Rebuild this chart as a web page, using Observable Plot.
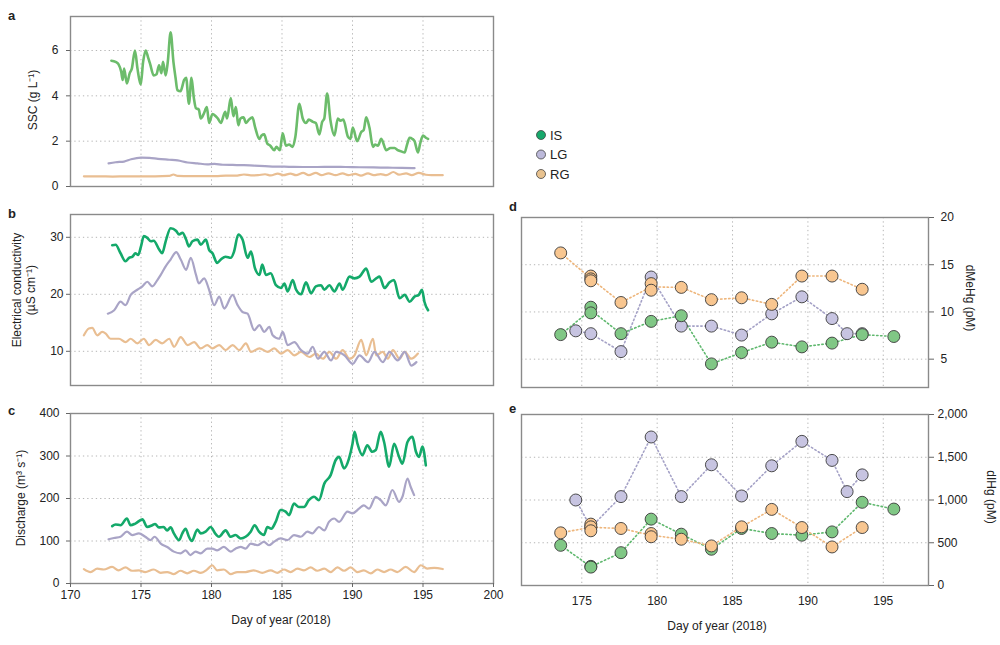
<!DOCTYPE html>
<html>
<head>
<meta charset="utf-8">
<script src="https://cdn.jsdelivr.net/npm/d3@7"></script>
<script src="https://cdn.jsdelivr.net/npm/@observablehq/plot@0.6"></script>
<style>
  html, body { margin: 0; padding: 0; background: #fff; }
  #root { position: relative; width: 1000px; height: 645px; overflow: hidden; background: #fff; }
  #root svg { position: absolute; }
</style>
</head>
<body>
<div id="root"></div>
<script>
// ---------------- DATA ----------------
const seriesNames = ["IS", "LG", "RG"];
const xTicksLeft = [170, 175, 180, 185, 190, 195, 200];
const xTicksRight = [175, 180, 185, 190, 195];
const sscTicks = [0, 2, 4, 6];
const ecTicks = [10, 20, 30];
const qTicks = [0, 100, 200, 300, 400];
const mehgTicks = [5, 10, 15, 20];
const ihgTicks = [0, 500, 1000, 1500, 2000];

// Panel a: SSC (g L-1)
const isSSC = [[172.9,5.55],[173.2,5.5],[173.4,5.4],[173.6,5.05],[173.7,4.7],[173.8,5.2],[174.0,4.55],[174.2,5.0],[174.35,5.2],[174.57,6.0],[174.75,5.2],[174.98,4.5],[175.15,5.5],[175.33,6.0],[175.5,5.7],[175.65,5.4],[175.9,4.9],[176.1,4.95],[176.28,5.35],[176.45,5.0],[176.56,5.5],[176.75,4.9],[176.9,5.5],[177.1,6.8],[177.3,5.5],[177.45,4.8],[177.58,4.25],[177.8,4.2],[178.06,4.7],[178.2,4.8],[178.4,3.65],[178.58,4.8],[178.75,3.9],[178.9,3.45],[179.1,3.4],[179.24,3.0],[179.45,3.2],[179.67,3.5],[179.83,2.8],[180.07,3.2],[180.3,3.1],[180.45,3.0],[180.66,2.8],[180.97,3.3],[181.1,3.0],[181.37,3.9],[181.55,3.1],[181.73,3.5],[181.9,2.7],[182.05,3.0],[182.27,3.05],[182.45,2.8],[182.65,2.95],[182.9,3.05],[183.1,2.6],[183.39,2.1],[183.55,2.25],[183.74,2.3],[183.95,1.9],[184.17,1.8],[184.45,1.6],[184.6,1.75],[184.85,1.6],[185.05,2.35],[185.28,1.8],[185.5,1.85],[185.76,1.75],[185.95,2.2],[186.23,3.65],[186.47,3.0],[186.7,2.8],[186.9,2.95],[187.2,2.85],[187.4,2.8],[187.65,2.3],[187.85,2.85],[188.0,3.0],[188.2,4.1],[188.44,2.9],[188.72,2.25],[188.96,3.0],[189.15,2.9],[189.35,2.95],[189.67,2.2],[189.85,2.1],[190.02,2.6],[190.33,2.0],[190.62,2.4],[190.8,2.5],[190.97,3.05],[191.2,2.6],[191.45,1.75],[191.6,1.85],[191.8,1.8],[192.04,2.1],[192.4,1.6],[192.7,1.7],[192.99,1.7],[193.2,1.6],[193.46,1.55],[193.7,1.5],[193.85,1.8],[194.05,2.15],[194.25,2.1],[194.4,2.0],[194.64,1.5],[194.8,1.9],[195.0,2.25],[195.2,2.15],[195.36,2.1]];
const lgSSC = [[172.7,1.02],[173.2,1.07],[173.8,1.1],[174.3,1.2],[175.0,1.27],[175.6,1.26],[176.2,1.22],[177.0,1.18],[177.6,1.15],[178.3,1.06],[179.0,1.02],[179.7,0.98],[180.2,1.0],[180.8,0.96],[181.5,0.95],[182.3,0.94],[183.0,0.92],[183.8,0.9],[184.5,0.88],[185.5,0.87],[186.5,0.86],[187.5,0.86],[188.5,0.87],[189.5,0.86],[190.5,0.85],[191.5,0.84],[192.5,0.83],[193.5,0.82],[194.4,0.81]];
const rgSSC = [[170.95,0.45],[172,0.45],[173,0.44],[174,0.45],[175,0.45],[176,0.45],[177,0.47],[177.3,0.53],[177.6,0.47],[178.5,0.46],[179.5,0.46],[180.3,0.46],[181,0.48],[181.7,0.48],[182.3,0.53],[182.8,0.49],[183.3,0.5],[183.8,0.54],[184.2,0.49],[184.7,0.57],[185.1,0.5],[185.6,0.57],[186.0,0.5],[186.5,0.6],[186.9,0.5],[187.4,0.6],[187.8,0.5],[188.3,0.58],[188.8,0.5],[189.3,0.58],[189.7,0.5],[190.2,0.56],[190.6,0.48],[191.1,0.58],[191.5,0.5],[192.0,0.55],[192.4,0.5],[192.9,0.64],[193.3,0.52],[193.8,0.58],[194.2,0.5],[194.7,0.6],[195.2,0.52],[195.6,0.5],[196.4,0.5]];

// Panel b: electrical conductivity (uS cm-1)
const isEC = [[172.96,28.6],[173.2,28.7],[173.55,27.2],[173.9,25.8],[174.15,26.4],[174.4,26.6],[174.6,27.2],[174.8,26.9],[175.0,28.4],[175.2,30.2],[175.45,29.9],[175.7,29.3],[175.9,29.4],[176.3,27.8],[176.5,27.2],[176.75,29.3],[177.1,31.6],[177.5,31.1],[177.7,30.5],[177.94,30.8],[178.2,29.6],[178.4,28.4],[178.65,29.3],[179.0,29.6],[179.24,28.7],[179.6,29.6],[179.83,27.8],[180.07,27.2],[180.4,25.5],[180.66,26.1],[181.0,26.6],[181.37,26.4],[181.6,27.5],[181.9,30.5],[182.2,29.6],[182.56,26.4],[182.8,27.5],[183.08,24.6],[183.4,23.4],[183.6,25.2],[183.86,23.4],[184.2,23.7],[184.57,21.6],[184.93,21.1],[185.17,21.9],[185.4,20.5],[185.76,22.5],[186.0,20.8],[186.35,20.0],[186.7,22.1],[187.06,20.2],[187.4,21.4],[187.77,21.6],[188.0,20.8],[188.36,21.6],[188.72,20.5],[189.08,21.9],[189.3,20.8],[189.79,23.1],[190.14,22.8],[190.5,23.1],[190.97,24.5],[191.33,22.2],[191.68,22.8],[191.92,23.1],[192.27,21.1],[192.63,22.1],[192.94,22.5],[193.34,19.3],[193.7,19.9],[194.05,18.7],[194.4,19.6],[194.7,19.9],[194.93,20.8],[195.1,18.7],[195.36,17.2]];
const lgEC = [[172.65,16.6],[173.1,17.2],[173.55,18.7],[173.9,18.1],[174.27,19.9],[174.74,20.8],[175.1,21.4],[175.45,22.2],[175.8,21.4],[176.16,22.5],[176.4,23.4],[176.75,24.9],[177.1,26.1],[177.5,27.4],[177.82,26.1],[178.2,24.3],[178.53,26.4],[178.9,23.4],[179.1,21.9],[179.48,22.8],[179.83,20.8],[180.19,18.1],[180.55,19.6],[180.9,17.5],[181.5,19.9],[181.85,18.1],[182.2,16.9],[182.56,16.6],[183.03,13.7],[183.4,14.6],[183.74,13.4],[184.1,14.3],[184.34,12.8],[184.8,12.2],[185.05,13.4],[185.4,11.1],[185.88,11.6],[186.35,10.2],[186.82,9.6],[187.18,10.8],[187.54,8.7],[188.0,9.9],[188.48,8.4],[188.84,9.9],[189.43,9.3],[190.02,7.8],[190.5,9.3],[191.1,8.1],[191.56,9.9],[192.15,8.1],[192.63,9.9],[193.2,8.4],[193.7,9.9],[194.17,7.5],[194.53,8.1]];
const rgEC = [[170.95,12.8],[171.3,14.0],[171.54,14.1],[171.9,12.8],[172.25,13.4],[172.5,13.1],[172.84,12.2],[173.44,12.2],[173.9,11.6],[174.27,12.2],[174.74,11.4],[175.2,12.2],[175.57,11.1],[176.04,12.0],[176.5,11.4],[177.0,12.2],[177.35,10.8],[177.82,12.5],[178.3,11.1],[178.77,11.6],[179.24,10.5],[179.7,11.1],[180.07,10.5],[180.55,11.1],[181.0,10.2],[181.5,11.1],[181.97,10.2],[182.44,11.4],[182.8,9.9],[183.4,10.5],[184.0,9.9],[184.45,10.5],[184.93,9.6],[185.4,10.2],[185.88,9.3],[186.35,9.9],[186.94,9.0],[187.4,9.6],[187.9,8.7],[188.36,9.9],[188.84,8.7],[189.3,10.2],[189.79,8.7],[190.14,9.3],[190.62,12.0],[190.97,9.3],[191.45,12.2],[191.68,9.3],[192.15,9.9],[192.5,8.7],[192.87,10.2],[193.34,8.7],[193.7,9.9],[194.17,8.7],[194.64,9.6]];

// Panel c: discharge (m3 s-1)
const isQ = [[172.96,135],[173.2,139],[173.55,137],[174.0,153],[174.26,137],[174.6,141],[175.1,151],[175.44,133],[175.8,137],[176.0,140],[176.27,132],[176.6,133],[176.86,125],[177.1,132],[177.33,118],[177.7,102],[177.93,118],[178.16,129],[178.4,110],[178.6,100],[179.0,127],[179.23,118],[179.58,122],[179.94,133],[180.3,116],[180.53,110],[181.0,125],[181.36,110],[181.7,114],[182.07,106],[182.42,110],[182.78,122],[183.06,137],[183.37,122],[183.72,114],[183.96,133],[184.24,129],[184.55,145],[184.9,173],[185.26,169],[185.5,161],[185.85,188],[186.2,180],[186.56,180],[186.9,196],[187.27,204],[187.62,196],[188.0,235],[188.45,255],[188.8,290],[189.05,298],[189.4,271],[189.75,294],[190.0,329],[190.15,357],[190.35,329],[190.7,302],[191.05,325],[191.4,310],[191.65,314],[192.0,357],[192.24,333],[192.6,275],[192.95,329],[193.3,298],[193.54,282],[193.9,333],[194.25,345],[194.5,310],[194.72,298],[194.96,322],[195.2,278]];
const lgQ = [[172.7,104],[173.08,107],[173.55,110],[174.0,122],[174.38,114],[174.85,118],[175.3,110],[175.68,102],[175.96,110],[176.4,94],[176.86,86],[177.33,75],[177.8,71],[178.16,78],[178.5,67],[178.87,75],[179.23,71],[179.7,82],[180.05,82],[180.4,78],[180.88,86],[181.36,75],[181.7,82],[182.07,86],[182.42,82],[182.78,94],[183.25,90],[183.72,98],[184.07,90],[184.43,98],[184.9,106],[185.38,102],[185.85,114],[186.33,110],[186.8,122],[187.15,118],[187.62,133],[188.0,125],[188.33,145],[188.7,153],[189.05,145],[189.64,169],[190.0,165],[190.46,176],[190.8,184],[191.17,176],[191.65,204],[192.0,196],[192.36,184],[192.83,220],[193.3,192],[193.54,204],[193.9,247],[194.13,227],[194.37,208]];
const rgQ = [[170.95,34],[171.42,27],[171.9,35],[172.36,33],[172.95,39],[173.4,31],[173.9,38],[174.36,30],[174.85,31],[175.3,27],[175.9,33],[176.4,25],[176.86,27],[177.33,22],[177.8,30],[178.28,24],[178.75,30],[179.23,25],[179.7,33],[180.05,43],[180.4,31],[180.88,33],[181.36,22],[181.83,27],[182.42,27],[183.0,31],[183.6,25],[184.2,31],[184.67,25],[185.14,33],[185.6,27],[186.1,35],[186.56,31],[187.03,38],[187.5,30],[188.0,35],[188.45,27],[188.93,38],[189.4,30],[189.87,38],[190.35,27],[190.8,31],[191.3,24],[191.76,33],[192.24,27],[192.7,33],[193.18,27],[193.77,39],[194.37,27],[194.84,43],[195.3,35],[195.8,37],[196.4,34]];

// Panel d: dMeHg (pM)
const isMeHg = [[173.6,7.6],[175.6,10.5],[175.6,9.9],[177.6,7.7],[179.6,9.0],[181.6,9.6],[183.6,4.5],[185.6,5.7],[187.6,6.8],[189.6,6.3],[191.6,6.7],[193.6,7.6],[195.7,7.4]];
const lgMeHg = [[174.6,8.0],[175.6,7.7],[177.6,5.8],[179.6,13.7],[181.6,8.5],[183.6,8.5],[185.6,7.55],[187.6,9.8],[189.6,11.6],[191.6,9.3],[192.6,7.7],[193.6,7.7]];
const rgMeHg = [[173.6,16.25],[175.6,13.8],[175.6,13.5],[175.6,13.3],[177.6,11.0],[179.6,13.0],[179.6,12.3],[181.6,12.6],[183.6,11.3],[185.6,11.5],[187.6,10.8],[189.6,13.8],[191.6,13.8],[193.6,12.4]];

// Panel e: dIHg (pM)
const isIHg = [[173.6,470],[175.6,224],[175.6,215],[177.6,384],[179.6,776],[181.6,600],[183.6,424],[185.6,667],[187.6,608],[189.6,588],[191.6,627],[193.6,973],[195.7,894]];
const lgIHg = [[174.6,1000],[175.6,680],[177.6,1040],[179.6,1737],[181.6,1040],[183.6,1412],[185.6,1047],[187.6,1400],[189.6,1686],[191.6,1463],[192.6,1098],[193.6,1294]];
const rgIHg = [[173.6,616],[175.6,718],[175.6,686],[175.6,640],[177.6,667],[179.6,608],[179.6,570],[181.6,541],[183.6,463],[185.6,686],[187.6,890],[189.6,678],[191.6,451],[193.6,678]];

// ---------------- STYLE ----------------
const FONT = "'Liberation Sans', Arial, Helvetica, sans-serif";
const C = {
  isA: "#6cbc6b", is: "#14a96a", lg: "#a9a4c6", rg: "#e9be92",
  isPt: "#80c785", lgPt: "#c7c4e1", rgPt: "#f8c690",
  isDot: "#5fb86e", lgDot: "#a4a1c6", rgDot: "#eeb67c"
};
const gridStyle = {stroke: "#b5b5b5", strokeOpacity: 1, strokeWidth: 1, strokeDasharray: "1.3,3"};
const frameStyle = {stroke: "#8a8a8a", strokeWidth: 1.4};
const toObj = arr => arr.map(([day, v]) => ({day, v}));

const root = document.getElementById("root");
function place(svg, left, top) {
  svg.style.left = left + "px";
  svg.style.top = top + "px";
  root.appendChild(svg);
}
const baseStyle = {fontFamily: FONT, fontSize: "12px", color: "#222", background: "transparent", overflow: "visible"};

// ---- Time series panels ----
function tsPanel({height, mt, mb, yDomain, yTicks, data, showX, isColor, pad}) {
  const [isD, lgD, rgD] = data;
  const marks = [
    Plot.gridX(xTicksRight, gridStyle),
    Plot.gridY(yTicks.filter(t => t > yDomain[0] && t < yDomain[1]), gridStyle),
    Plot.line(toObj(rgD), {x: "day", y: "v", stroke: C.rg, strokeWidth: 2.2, curve: "monotone-x"}),
    Plot.line(toObj(lgD), {x: "day", y: "v", stroke: C.lg, strokeWidth: 2.2, curve: "monotone-x"}),
    Plot.line(toObj(isD), {x: "day", y: "v", stroke: isColor, strokeWidth: 2.6, curve: "monotone-x"}),
    Plot.frame(frameStyle),
    Plot.axisY(yTicks, {anchor: "left", tickSize: 4, tickPadding: pad, label: null, stroke: "#666", fill: "#222", fontSize: 12})
  ];
  if (showX) marks.push(Plot.axisX(xTicksLeft, {anchor: "bottom", tickSize: 4, tickPadding: 3, label: null, stroke: "#666", fill: "#222", fontSize: 12}));
  return Plot.plot({
    width: 500, height, marginLeft: 70, marginRight: 7, marginTop: mt, marginBottom: mb,
    x: {domain: [170, 200], axis: null},
    y: {domain: yDomain, axis: null},
    style: baseStyle,
    marks
  });
}

place(tsPanel({height: 200, mt: 16, mb: 14, yDomain: [0, 7.5], yTicks: sscTicks, data: [isSSC, lgSSC, rgSSC], showX: false, isColor: C.isA, pad: 8}), 0, 0);
place(tsPanel({height: 190, mt: 14, mb: 5, yDomain: [4, 34], yTicks: ecTicks, data: [isEC, lgEC, rgEC], showX: false, isColor: C.is, pad: 3}), 0, 200);
place(tsPanel({height: 245, mt: 13, mb: 62, yDomain: [0, 400], yTicks: qTicks, data: [isQ, lgQ, rgQ], showX: true, isColor: C.is, pad: 7}), 0, 400);

// ---- Sample panels ----
function smPanel({height, mt, mb, yDomain, yTicks, data, showX, fmt, pad}) {
  const [isD, lgD, rgD] = data.map(toObj);
  const dotted = (d, color) => Plot.line(d, Plot.groupX({y: "mean"}, {x: "day", y: "v", stroke: color, strokeWidth: 1.6, strokeDasharray: "1.4,2.6", strokeLinecap: "round"}));
  const pts = (d, fill) => Plot.dot(d, {x: "day", y: "v", r: 6, fill, stroke: "#3a3a3a", strokeWidth: 0.9});
  const marks = [
    Plot.gridX(xTicksRight, gridStyle),
    Plot.gridY(yTicks.filter(t => t > yDomain[0] && t < yDomain[1]), gridStyle),
    dotted(lgD, C.lgDot), dotted(isD, C.isDot), dotted(rgD, C.rgDot),
    pts(lgD, C.lgPt), pts(isD, C.isPt), pts(rgD, C.rgPt),
    Plot.frame(frameStyle),
    Plot.axisY(yTicks, {anchor: "right", tickSize: 5, tickPadding: pad, label: null, stroke: "#666", fill: "#222", fontSize: 12, tickFormat: fmt})
  ];
  if (showX) marks.push(Plot.axisX(xTicksRight, {anchor: "bottom", tickSize: 0, tickPadding: 11, label: null, fill: "#222", fontSize: 12}));
  return Plot.plot({
    width: 500, height, marginLeft: 21, marginRight: 72, marginTop: mt, marginBottom: mb,
    x: {domain: [171, 198], axis: null},
    y: {domain: yDomain, axis: null},
    style: baseStyle,
    marks
  });
}
place(smPanel({height: 200, mt: 17, mb: 13, yDomain: [2, 20], yTicks: mehgTicks, data: [isMeHg, lgMeHg, rgMeHg], showX: false, fmt: d3.format(","), pad: 7}), 500, 200);
place(smPanel({height: 245, mt: 14, mb: 60, yDomain: [0, 2000], yTicks: ihgTicks, data: [isIHg, lgIHg, rgIHg], showX: true, fmt: d3.format(","), pad: 4}), 500, 400);

// ---- Overlay text: panel letters, axis titles, legend ----
const ov = d3.create("svg").attr("width", 1000).attr("height", 645)
  .style("left", "0px").style("top", "0px")
  .attr("font-family", FONT).attr("fill", "#222");
const letters = [["a", 8, 20], ["b", 8, 218], ["c", 8, 415], ["d", 509, 211], ["e", 509, 413]];
ov.selectAll("text.l").data(letters).join("text")
  .attr("x", d => d[1]).attr("y", d => d[2]).attr("font-size", 13).attr("font-weight", "bold").text(d => d[0]);

const yTitles = [
  ["SSC (g L\u207B\u00B9)", 33, 100, -90],
  ["Electrical conductivity", 17, 290, -90],
  ["(\u00B5S cm\u207B\u00B9)", 31, 290, -90],
  ["Discharge (m\u00B3 s\u207B\u00B9)", 21, 498, -90],
  ["dMeHg (pM)", 970, 298, 90],
  ["dIHg (pM)", 991, 497, 90]
];
ov.selectAll("text.t").data(yTitles).join("text")
  .attr("transform", d => `translate(${d[1]},${d[2]}) rotate(${d[3]})`)
  .attr("text-anchor", "middle").attr("dominant-baseline", "central").attr("font-size", 12).text(d => d[0]);

const xTitles = [["Day of year (2018)", 281, 620], ["Day of year (2018)", 717, 626]];
ov.selectAll("text.x").data(xTitles).join("text")
  .attr("x", d => d[1]).attr("y", d => d[2]).attr("text-anchor", "middle").attr("dominant-baseline", "central")
  .attr("font-size", 12).text(d => d[0]);

const legendColors = ["#17a86b", "#bcb9da", "#e8c28f"];
const lg = ov.append("g");
seriesNames.forEach((name, i) => {
  const y = 135 + i * 19.5;
  lg.append("circle").attr("cx", 541).attr("cy", y).attr("r", 4.5).attr("fill", legendColors[i]).attr("stroke", "#444").attr("stroke-width", 0.8);
  lg.append("text").attr("x", 550).attr("y", y).attr("dominant-baseline", "central").attr("font-size", 13).text(name);
});
place(ov.node(), 0, 0);
</script>
</body>
</html>
